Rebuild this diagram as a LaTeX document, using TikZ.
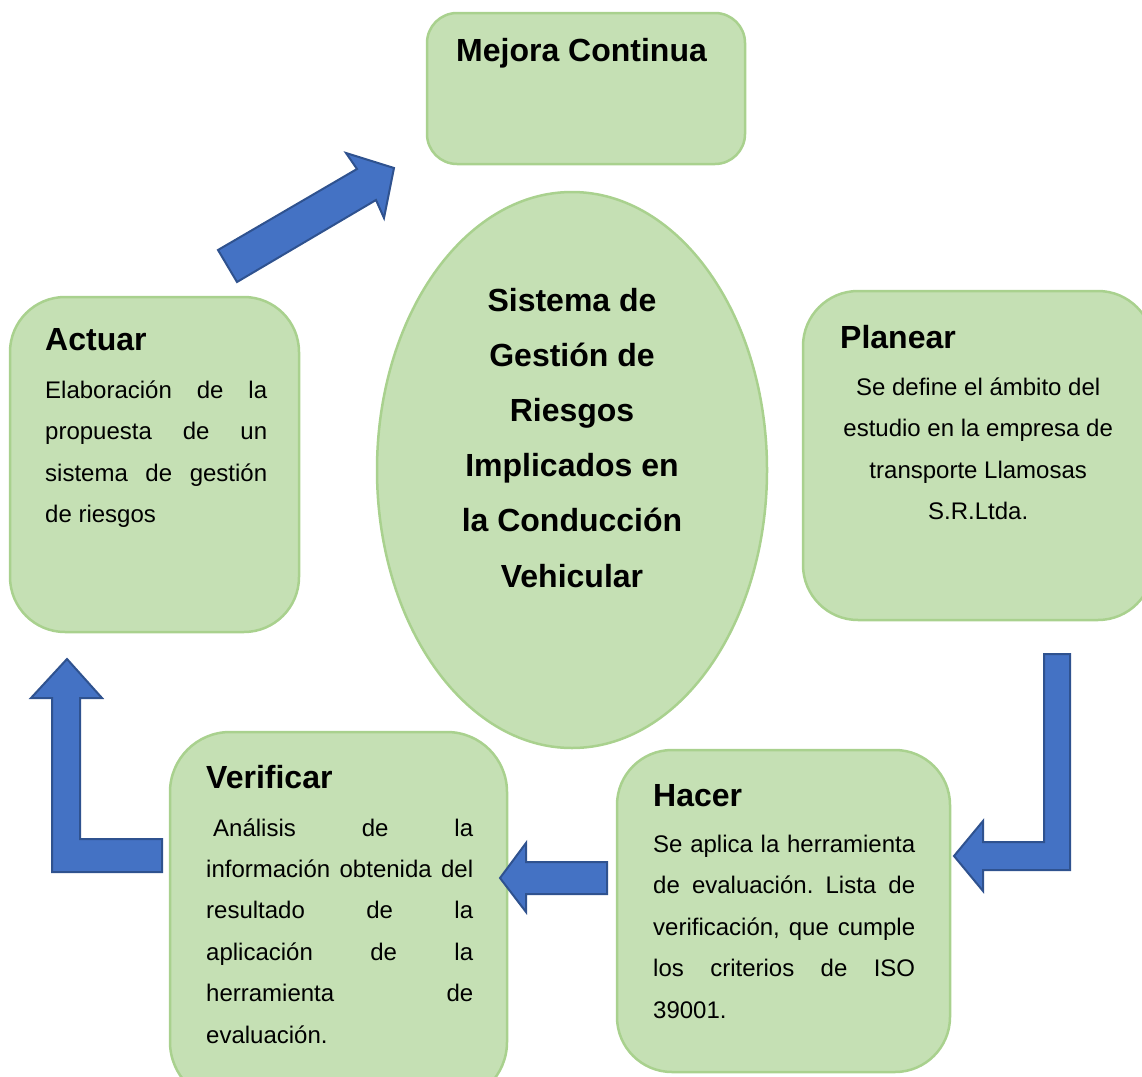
\documentclass[tikz,border=0pt]{standalone}
\usepackage{fontspec}
\setmainfont{Liberation Sans}
\usetikzlibrary{shapes.geometric}
\definecolor{boxfill}{HTML}{C5E0B4}
\definecolor{boxline}{HTML}{A9D18E}
\definecolor{arrfill}{HTML}{4472C4}
\definecolor{arrline}{HTML}{2F528F}
\frenchspacing
\begin{document}
\begin{tikzpicture}[x=1pt,y=-1pt,
  greenbox/.style={draw=boxline, fill=boxfill, line width=2.5pt, rounded corners=55pt, inner sep=0pt},
  blockarrow/.style={draw=arrline, fill=arrfill, line width=2pt, line join=miter},
  titletext/.style={font=\fontsize{32}{36}\selectfont\bfseries, anchor=base west, inner sep=0pt},
  bodytext/.style={anchor=base west, inner sep=0pt},
]
\useasboundingbox (0,0) rectangle (1142,1076);
\clip (0,0) rectangle (1142,1076);

% boxes
\node[greenbox, rounded corners=30pt, minimum width=318pt, minimum height=151pt] (mejora) at (586,88.5) {};
\node[greenbox, minimum width=289pt, minimum height=335pt] (actuar) at (154.5,464.5) {};
\node[greenbox, minimum width=350pt, minimum height=329pt] (planear) at (978,455.5) {};
\node[greenbox, rounded corners=60pt, minimum width=337pt, minimum height=370pt] (verificar) at (338.5,917) {};
\node[greenbox, minimum width=333pt, minimum height=322pt] (hacer) at (783.5,911) {};
\node[ellipse, draw=boxline, fill=boxfill, line width=2.5pt, minimum width=390pt, minimum height=556pt, inner sep=0pt] (sgr) at (572,470) {};

% arrows
\draw[blockarrow] (218,250) -- (357,169) -- (346,153) -- (394,168) -- (384,218) -- (376,200) -- (237,282) -- cycle;
\draw[blockarrow] (67,659) -- (102,698) -- (80,698) -- (80,839) -- (162,839) -- (162,872) -- (52,872) -- (52,698) -- (31,698) -- cycle;
\draw[blockarrow] (500,878) -- (526,843) -- (526,862) -- (607,862) -- (607,894) -- (526,894) -- (526,912) -- cycle;
\draw[blockarrow] (1044,654) -- (1070,654) -- (1070,870) -- (983,870) -- (983,891) -- (954,856) -- (983,821) -- (983,842) -- (1044,842) -- cycle;

% titles
\node[titletext] (tmejora) at (456,61) {Mejora Continua};
\node[titletext] (tactuar) at (45,350) {Actuar};
\node[titletext] (tplanear) at (840,348) {Planear};
\node[titletext] (tverificar) at (206,788) {Verificar};
\node[titletext] (thacer) at (653,806) {Hacer};

% body texts
\node[bodytext] (bactuar) at (45,398) {\parbox[t]{222pt}{\fontsize{24}{41.5}\selectfont
\makebox[222pt][s]{Elaboración de la}\\
\makebox[222pt][s]{propuesta de un}\\
\makebox[222pt][s]{sistema de gestión}\\
de riesgos}};

\node[bodytext] (bplanear) at (828,395) {\parbox[t]{300pt}{\centering\fontsize{24}{41.5}\selectfont
Se define el ámbito del\\
estudio en la empresa de\\
transporte Llamosas\\
S.R.Ltda.}};

\node[bodytext] (bverificar) at (206,836) {\parbox[t]{267pt}{\fontsize{24}{41.4}\selectfont
\hspace*{7pt}\makebox[260pt][s]{Análisis de la}\\
\makebox[267pt][s]{información obtenida del}\\
\makebox[267pt][s]{resultado de la}\\
\makebox[267pt][s]{aplicación de la}\\
\makebox[267pt][s]{herramienta de}\\
evaluación.}};

\node[bodytext] (bhacer) at (653,852) {\parbox[t]{262pt}{\fontsize{24}{41.5}\selectfont
\makebox[262pt][s]{Se aplica la herramienta}\\
\makebox[262pt][s]{de evaluación. Lista de}\\
\makebox[262pt][s]{verificación, que cumple}\\
\makebox[262pt][s]{los criterios de ISO}\\
39001.}};

% ellipse text
\node[anchor=base, inner sep=0pt] (bsgr) at (572,311) {\parbox[t]{380pt}{\centering\fontsize{32}{55.2}\selectfont\bfseries
Sistema de\\
Gestión de\\
Riesgos\\
Implicados en\\
la Conducción\\
Vehicular}};
\end{tikzpicture}
\end{document}
